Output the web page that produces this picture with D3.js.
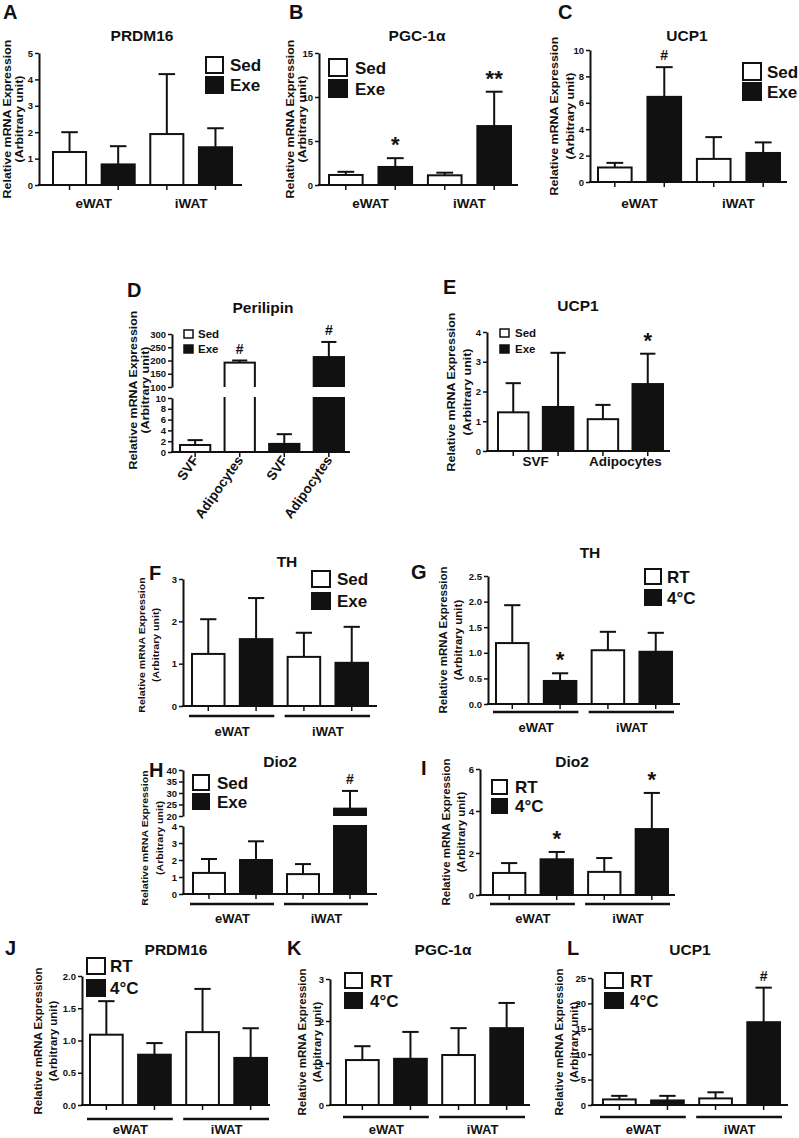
<!DOCTYPE html>
<html><head><meta charset="utf-8">
<script src="https://cdn.jsdelivr.net/npm/d3@7"></script>
<style>
body{margin:0;background:#fff}
svg{display:block}
text{font-family:'Liberation Sans',Arial,sans-serif;font-weight:bold;fill:#111}
</style>
</head><body>
<svg id="fig" width="799" height="1138"></svg>
<script>
// ---------------- DATA ----------------
const sedExe = ["Sed", "Exe"];
const rtCold = ["RT", "4°C"];
const watGroups = ["eWAT", "iWAT"];
const cellGroups = ["SVF", "Adipocytes"];
// bar order: group1/series1, group1/series2, group2/series1, group2/series2
const prdm16ExMean = [1.25, 0.78, 1.93, 1.43];
const prdm16ExErr  = [0.75, 0.69, 2.27, 0.72];
const pgcExMean = [1.14, 2.05, 1.10, 6.70];
const pgcExErr  = [0.36, 1.00, 0.30, 3.90];
const pgcExSig  = ["", "*", "", "**"];
const ucp1ExMean = [1.10, 6.45, 1.75, 2.20];
const ucp1ExErr  = [0.35, 2.25, 1.65, 0.80];
const ucp1ExSig  = ["", "#", "", ""];
// Perilipin order: Sed SVF, Sed Adipocytes, Exe SVF, Exe Adipocytes
const perilipinCats = ["SVF", "Adipocytes", "SVF", "Adipocytes"];
const perilipinSeries = [0, 0, 1, 1];
const perilipinMean = [1.3, 192, 1.5, 213];
const perilipinErr  = [0.9, 8, 1.8, 57];
const perilipinSig  = ["", "#", "", "#"];
const ucp1CellMean = [1.30, 1.48, 1.07, 2.25];
const ucp1CellErr  = [0.98, 1.82, 0.48, 1.02];
const ucp1CellSig  = ["", "", "", "*"];
const thExMean = [1.23, 1.58, 1.16, 1.02];
const thExErr  = [0.82, 0.97, 0.57, 0.85];
const thColdMean = [1.19, 0.45, 1.05, 1.02];
const thColdErr  = [0.74, 0.15, 0.36, 0.37];
const thColdSig  = ["", "*", "", ""];
const dio2ExMean = [1.24, 2.00, 1.17, 23.2];
const dio2ExErr  = [0.82, 1.10, 0.59, 7.7];
const dio2ExSig  = ["", "", "", "#"];
const dio2ColdMean = [1.05, 1.70, 1.10, 3.14];
const dio2ColdErr  = [0.47, 0.35, 0.66, 1.72];
const dio2ColdSig  = ["", "*", "", "*"];
const prdm16ColdMean = [1.09, 0.78, 1.13, 0.73];
const prdm16ColdErr  = [0.52, 0.18, 0.67, 0.46];
const pgcColdMean = [1.07, 1.10, 1.19, 1.83];
const pgcColdErr  = [0.33, 0.64, 0.64, 0.60];
const ucp1ColdMean = [1.10, 0.90, 1.30, 16.3];
const ucp1ColdErr  = [0.70, 0.90, 1.20, 6.8];
const ucp1ColdSig  = ["", "", "", "#"];
// tick values
const ticks0to5 = [0, 1, 2, 3, 4, 5];
const ticks0to15 = [0, 5, 10, 15];
const ticks0to10 = [0, 2, 4, 6, 8, 10];
const perilipinLowTicks = [0, 2, 4, 6, 8, 10];
const perilipinHighTicks = [100, 150, 200, 250, 300];
const ticks0to4 = [0, 1, 2, 3, 4];
const ticks0to3 = [0, 1, 2, 3];
const ticks0to2p5 = [0, 0.5, 1, 1.5, 2, 2.5];
const dio2LowTicks = [0, 1, 2, 3, 4];
const dio2HighTicks = [20, 25, 30, 35, 40];
const ticks0to6 = [0, 2, 4, 6];
const ticks0to2 = [0, 0.5, 1, 1.5, 2];
const ticks0to25 = [0, 5, 10, 15, 20, 25];

// ---------------- DRAWING ----------------
const FONT = "'Liberation Sans',Arial,sans-serif";
const svg = d3.select("#fig");
let clipN = 0;
const fInt = d3.format("d"), f1 = d3.format(".1f");
const ylab1 = "Relative mRNA Expression", ylab2 = "(Arbitrary unit)";

function styleAxis(sel) {
  sel.attr("font-size", null).attr("font-family", null);
  sel.select(".domain").attr("stroke-width", 2).attr("stroke", "#111");
  sel.selectAll(".tick line").attr("stroke-width", 1.5).attr("stroke", "#111");
  sel.selectAll(".tick text").attr("font-size", 9.5).attr("font-family", FONT)
     .attr("font-weight", "bold").attr("fill", "#111");
}

function panel(p) {
  const g = svg.append("g");
  const n = p.mean.length;
  const x = d3.scaleBand().domain(d3.range(n)).range(p.bars).paddingInner(0.32);
  const bw = x.bandwidth();
  const fills = p.series || [0, 1, 0, 1];
  const yB = p.segs[0].rng[0];

  p.segs.forEach((s, si) => {
    const y = d3.scaleLinear().domain(s.dom).range(s.rng);
    const bot = s.rng[0], top = s.rng[1];
    const id = "clip" + (clipN++);
    svg.append("clipPath").attr("id", id).append("rect")
      .attr("x", 0).attr("width", 799).attr("y", top - 1).attr("height", bot - top + 1);
    const gb = g.append("g").attr("clip-path", `url(#${id})`);
    p.mean.forEach((v, i) => {
      if (si > 0 && v <= s.dom[0]) return;
      const yt = v > s.dom[1] ? top - 10 : y(v);
      const yb = si > 0 ? bot + 10 : y(0);
      gb.append("rect").attr("x", x(i)).attr("y", yt).attr("width", bw)
        .attr("height", yb - yt).attr("fill", fills[i] ? "#111" : "#fff")
        .attr("stroke", "#111").attr("stroke-width", 2);
      if (v <= s.dom[1]) {
        const cx = x(i) + bw / 2, ye = y(v + p.err[i]);
        g.append("line").attr("x1", cx).attr("x2", cx).attr("y1", y(v)).attr("y2", ye)
          .attr("stroke", "#111").attr("stroke-width", 2);
        g.append("line").attr("x1", cx - bw / 4).attr("x2", cx + bw / 4).attr("y1", ye).attr("y2", ye)
          .attr("stroke", "#111").attr("stroke-width", 2);
        if (p.sig && p.sig[i]) {
          const star = p.sig[i].includes("*");
          g.append("text").attr("x", cx).attr("y", ye - (star ? 6 : 7))
            .attr("text-anchor", "middle").attr("font-size", star ? 22 : 14)
            .attr("font-weight", star ? "normal" : "bold").text(p.sig[i]);
        }
      }
    });
    g.append("g").attr("transform", `translate(${p.x0},0)`)
      .call(d3.axisLeft(y).tickValues(s.ticks).tickSize(4).tickSizeOuter(0).tickPadding(2)
        .tickFormat(s.fmt || fInt))
      .call(styleAxis);
  });

  // x axis
  g.append("line").attr("x1", p.x0 - 1).attr("x2", p.x1).attr("y1", yB).attr("y2", yB)
    .attr("stroke", "#111").attr("stroke-width", 2);
  const xa = g.append("g").attr("transform", `translate(0,${yB})`)
    .call(d3.axisBottom(x).tickSize(5).tickFormat(() => ""));
  xa.select(".domain").remove();
  xa.selectAll(".tick line").attr("stroke-width", 1.5).attr("stroke", "#111");

  // group labels
  const gc = k => (x(2 * k) + x(2 * k + 1) + bw) / 2;
  if (p.xlab.type === "plain") {
    p.xlab.labels.forEach((t, k) => g.append("text").attr("x", gc(k)).attr("y", p.xlab.y)
      .attr("text-anchor", "middle").attr("font-size", 13.5).text(t));
  } else if (p.xlab.type === "lines") {
    p.xlab.labels.forEach((t, k) => {
      g.append("line").attr("x1", x(2 * k) - 3).attr("x2", x(2 * k + 1) + bw + 2)
        .attr("y1", p.xlab.ly).attr("y2", p.xlab.ly).attr("stroke", "#111").attr("stroke-width", 2.5);
      g.append("text").attr("x", gc(k)).attr("y", p.xlab.y)
        .attr("text-anchor", "middle").attr("font-size", 13).text(t);
    });
  } else if (p.xlab.type === "rot") {
    p.xlab.labels.forEach((t, i) => g.append("text")
      .attr("transform", `translate(${x(i) + bw / 2 + 4},${p.xlab.y}) rotate(-55)`)
      .attr("text-anchor", "end").attr("font-size", 13.5).text(t));
  }

  // title, letter
  g.append("text").attr("x", p.title[1]).attr("y", p.title[2]).attr("text-anchor", "middle")
    .attr("font-size", 15.5).text(p.title[0]);
  g.append("text").attr("x", p.letter[1]).attr("y", p.letter[2]).attr("font-size", 20).text(p.letter[0]);

  // y label (two rotated lines, slightly stretched along the text direction)
  const yl = p.ylab, fs = yl[3] || 10.8;
  [[ylab1, yl[0]], [ylab2, yl[1]]].forEach(([t, xx]) => g.append("text")
    .attr("transform", `translate(${xx},${yl[2]}) rotate(-90) scale(1.15,1)`).attr("dy", "0.36em")
    .attr("text-anchor", "middle").attr("font-size", fs).text(t));

  // legend
  const L = p.legend;
  L.labels.forEach((t, k) => {
    g.append("rect").attr("x", L.x).attr("y", L.y[k]).attr("width", L.w).attr("height", L.h)
      .attr("fill", k ? "#111" : "#fff").attr("stroke", "#111").attr("stroke-width", L.small ? 1.5 : 2);
    g.append("text").attr("x", L.tx).attr("y", L.y[k] + L.h / 2).attr("dy", "0.36em")
      .attr("font-size", L.fs).attr("font-weight", t === "4°C" ? "normal" : "bold").text(t);
  });
}

const big = (x, y0, y1, w, h, tx, labels) => ({x, y: [y0, y1], w, h, tx, fs: 17, labels});
const small = (x, y0, y1, tx, labels) => ({x, y: [y0, y1], w: 9, h: 8, tx, fs: 11.5, labels, small: true});

// A
panel({mean: prdm16ExMean, err: prdm16ExErr, x0: 39, x1: 242, bars: [53, 232],
  segs: [{dom: [0, 5], rng: [185, 53], ticks: ticks0to5}],
  xlab: {type: "plain", y: 208, labels: watGroups},
  title: ["PRDM16", 142, 41], letter: ["A", 3, 19], ylab: [7, 19, 119],
  legend: big(206, 57, 77, 17, 16, 230, sedExe)});
// B
panel({mean: pgcExMean, err: pgcExErr, sig: pgcExSig, x0: 319, x1: 518, bars: [329, 511],
  segs: [{dom: [0, 15], rng: [185, 53], ticks: ticks0to15}],
  xlab: {type: "plain", y: 208, labels: watGroups},
  title: ["PGC-1α", 417, 41], letter: ["B", 289, 19], ylab: [290, 302, 119],
  legend: big(329, 59, 80, 18, 17, 355, sedExe)});
// C
panel({mean: ucp1ExMean, err: ucp1ExErr, sig: ucp1ExSig, x0: 590, x1: 787, bars: [598, 780],
  segs: [{dom: [0, 10], rng: [182, 50], ticks: ticks0to10}],
  xlab: {type: "plain", y: 208, labels: watGroups},
  title: ["UCP1", 687, 41], letter: ["C", 558, 19], ylab: [554, 570, 116],
  legend: big(743, 63, 83, 18, 17, 767, sedExe)});
// D
panel({mean: perilipinMean, err: perilipinErr, sig: perilipinSig, series: perilipinSeries,
  x0: 172, x1: 350, bars: [180, 344],
  segs: [{dom: [0, 10], rng: [452, 398], ticks: perilipinLowTicks},
         {dom: [100, 300], rng: [387, 334], ticks: perilipinHighTicks}],
  xlab: {type: "rot", y: 460, labels: perilipinCats},
  title: ["Perilipin", 263, 313], letter: ["D", 127, 297], ylab: [133, 145, 390],
  legend: small(184, 330, 345, 198, sedExe)});
// E
panel({mean: ucp1CellMean, err: ucp1CellErr, sig: ucp1CellSig, x0: 487, x1: 670, bars: [498, 663],
  segs: [{dom: [0, 4], rng: [451, 332], ticks: ticks0to4}],
  xlab: {type: "plain", y: 466, labels: cellGroups},
  title: ["UCP1", 578, 311], letter: ["E", 443, 294], ylab: [451, 467, 392],
  legend: small(500, 329, 345, 515, sedExe)});
// F
panel({mean: thExMean, err: thExErr, x0: 183, x1: 377, bars: [192, 368],
  segs: [{dom: [0, 3], rng: [706, 579], ticks: ticks0to3}],
  xlab: {type: "lines", ly: 716, y: 736, labels: watGroups},
  title: ["TH", 287, 567], letter: ["F", 149, 580], ylab: [142, 156, 645, 9.2],
  legend: big(312, 571, 593, 18, 16, 337, sedExe)});
// G
panel({mean: thColdMean, err: thColdErr, sig: thColdSig, x0: 488, x1: 680, bars: [496, 672],
  segs: [{dom: [0, 2.5], rng: [704, 576], ticks: ticks0to2p5, fmt: f1}],
  xlab: {type: "lines", ly: 712, y: 732, labels: watGroups},
  title: ["TH", 590, 558], letter: ["G", 411, 579], ylab: [443, 458, 640, 10],
  legend: big(645, 569, 590, 16, 15, 667, rtCold)});
// H
panel({mean: dio2ExMean, err: dio2ExErr, sig: dio2ExSig, x0: 183, x1: 377, bars: [193, 366],
  segs: [{dom: [0, 4], rng: [894, 826], ticks: dio2LowTicks},
         {dom: [20, 40], rng: [816, 770], ticks: dio2HighTicks}],
  xlab: {type: "lines", ly: 904, y: 923, labels: watGroups},
  title: ["Dio2", 280, 767], letter: ["H", 149, 777], ylab: [145, 160, 838, 9.2],
  legend: big(193, 775, 794, 16, 15, 217, sedExe)});
// I
panel({mean: dio2ColdMean, err: dio2ColdErr, sig: dio2ColdSig, x0: 480, x1: 675, bars: [493, 668],
  segs: [{dom: [0, 6], rng: [895, 769], ticks: ticks0to6}],
  xlab: {type: "lines", ly: 904, y: 923, labels: watGroups},
  title: ["Dio2", 572, 767], letter: ["I", 421, 775], ylab: [446, 461, 832, 10],
  legend: big(492, 780, 799, 15, 14, 515, rtCold)});
// J
panel({mean: prdm16ColdMean, err: prdm16ColdErr, x0: 82, x1: 270, bars: [90, 267],
  segs: [{dom: [0, 2], rng: [1105, 976], ticks: ticks0to2, fmt: f1}],
  xlab: {type: "lines", ly: 1119, y: 1134, labels: watGroups},
  title: ["PRDM16", 176, 955], letter: ["J", 5, 955], ylab: [38, 53, 1041, 10],
  legend: big(87, 958, 980, 18, 16, 110, rtCold)});
// K
panel({mean: pgcColdMean, err: pgcColdErr, x0: 330, x1: 530, bars: [346, 523],
  segs: [{dom: [0, 3], rng: [1105, 979], ticks: ticks0to3}],
  xlab: {type: "lines", ly: 1117, y: 1134, labels: watGroups},
  title: ["PGC-1α", 443, 955], letter: ["K", 287, 955], ylab: [302, 317, 1042, 10],
  legend: big(345, 973, 993, 17, 15, 370, rtCold)});
// L
panel({mean: ucp1ColdMean, err: ucp1ColdErr, sig: ucp1ColdSig, x0: 592, x1: 788, bars: [603, 780],
  segs: [{dom: [0, 25], rng: [1105, 978], ticks: ticks0to25}],
  xlab: {type: "lines", ly: 1117, y: 1134, labels: watGroups},
  title: ["UCP1", 690, 955], letter: ["L", 567, 955], ylab: [559, 574, 1042, 10],
  legend: big(605, 973, 993, 18, 15, 630, rtCold)});
</script>
</body></html>
